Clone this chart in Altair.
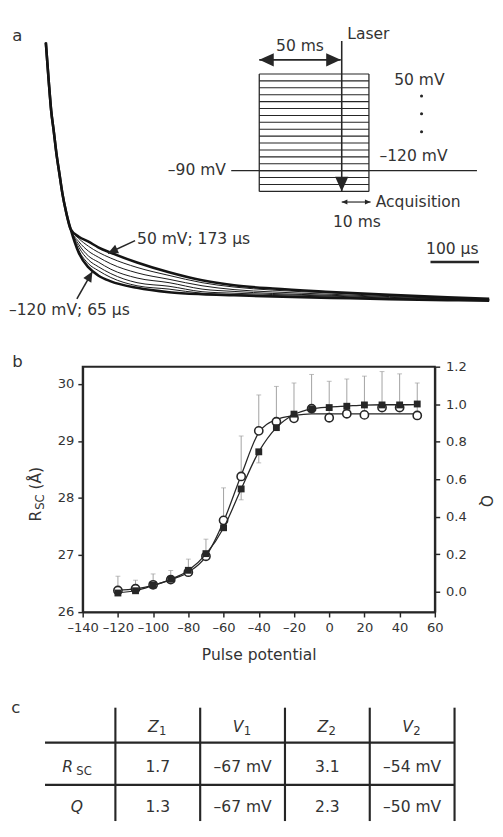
import altair as alt
import pandas as pd

FONT = "DejaVu Sans"
INK = "#262626"
LABEL = "#333333"
TRACE = "#141414"
ERR = "#a0a0a0"
HEAD = "M0,0L1,2.2L-1,2.2Z"   # arrow head, tip at the origin, pointing up

# ================= panel a : decays (time in µs, normalised signal) =================
t_start = [0, 6, 11, 16, 22, 28, 34, 42, 51]
I_start = [1.000, 0.850, 0.737, 0.662, 0.568, 0.492, 0.417, 0.342, 0.278]
t_tail = [68, 88, 108, 134, 188, 254, 322, 388, 468, 588, 708, 828, 914]
trace_names = ["50 mV", "t2", "t3", "t4", "t5", "t6", "-120 mV"]
trace_width = [2.6, 1.0, 1.0, 1.0, 1.0, 1.0, 2.6]
tail_50 = [0.248, 0.229, 0.207, 0.186, 0.148, 0.110, 0.079, 0.060, 0.047, 0.034, 0.023, 0.013, 0.008]
tail_2 = [0.241, 0.211, 0.188, 0.165, 0.129, 0.098, 0.070, 0.053, 0.041, 0.030, 0.019, 0.011, 0.006]
tail_3 = [0.229, 0.192, 0.169, 0.143, 0.108, 0.083, 0.058, 0.043, 0.034, 0.025, 0.016, 0.009, 0.005]
tail_4 = [0.218, 0.173, 0.150, 0.122, 0.088, 0.070, 0.045, 0.036, 0.028, 0.021, 0.013, 0.007, 0.003]
tail_5 = [0.207, 0.158, 0.132, 0.105, 0.070, 0.056, 0.035, 0.029, 0.024, 0.018, 0.010, 0.005, 0.002]
tail_6 = [0.195, 0.143, 0.117, 0.090, 0.058, 0.045, 0.029, 0.024, 0.020, 0.014, 0.008, 0.003, 0.001]
tail_120 = [0.185, 0.129, 0.098, 0.075, 0.050, 0.033, 0.025, 0.021, 0.016, 0.011, 0.006, 0.002, 0.000]
tails = [tail_50, tail_2, tail_3, tail_4, tail_5, tail_6, tail_120]

# annotation arrows (tail -> tip) in trace units
arr_t = [184, 64]
arr_I = [0.233, 0.0075]
arr_t2 = [128, 96]
arr_I2 = [0.184, 0.113]
arr_angle = [245, 30]

ann_left_text = ["50 mV; 173 µs", "–120 mV; 65 µs"]
ann_left_t = [188, -76]
ann_left_I = [0.237, -0.038]

ann_center_text = ["a", "100 µs"]
ann_center_t = [-58.6, 838]
ann_center_I = [1.026, 0.200]
ann_center_fs = [17, 16]

bar_t = [793]
bar_t2 = [893]
bar_I = [0.150]

# ---- inset protocol diagram (schematic ms, mV) ----
pulse_mV = list(range(-120, 51, 10))
box_ms = [-50, 16.5]
hold_ms = [-67, 82]
hold_mV = -90
laser_ms = 0
laser_top_mV = 97.8
arrow50_mV = 70.5
arrow50_ms = [-50, -0.6]
acq_mV = -135.4
acq_ms = [0, 17.5]

inset_left_text = ["Laser", "50 mV", "–120 mV", "Acquisition"]
inset_left_ms = [3.4, 31.8, 22.9, 20.6]
inset_left_mV = [107, 41.6, -68.6, -135.4]
inset_right_text = ["–90 mV"]
inset_right_ms = [-70.2]
inset_right_mV = [-89.6]
inset_center_text = ["50 ms", "10 ms"]
inset_center_ms = [-25.3, 9.2]
inset_center_mV = [90.7, -164.5]
dots_ms = [48.4, 48.4, 48.4]
dots_mV = [18.1, -7.6, -33.5]

# ================= panel b =================
V = list(range(-120, 51, 10))
R_circ = [26.38, 26.41, 26.48, 26.57, 26.70, 26.98, 27.61, 28.38, 29.18,
          29.34, 29.40, 29.57, 29.41, 29.48, 29.46, 29.59, 29.59, 29.45]
R_err_hi = [26.63, 26.56, 26.67, 26.73, 26.93, 27.28, 28.18, 29.09, 29.81,
            29.96, 30.02, 30.17, 30.05, 30.09, 30.14, 30.22, 30.18, 30.02]
R_fit = [26.39, 26.41, 26.47, 26.57, 26.70, 26.98, 27.59, 28.40, 29.15,
         29.38, 29.45, 29.48, 29.48, 29.48, 29.48, 29.48, 29.48, 29.48]
Q_sq = [-0.007, 0.005, 0.035, 0.066, 0.114, 0.203, 0.341, 0.548, 0.746,
        0.875, 0.947, 0.975, 0.982, 0.989, 0.996, 0.996, 0.996, 1.001]
Q_fit = [-0.005, 0.005, 0.033, 0.066, 0.113, 0.200, 0.340, 0.548, 0.746,
         0.875, 0.945, 0.975, 0.985, 0.990, 0.995, 0.997, 0.997, 0.998]
Q_err_V = [-50, -40]
Q_err_val = [0.548, 0.746]
Q_err_lo = [0.490, 0.687]

R_ticks = [26, 27, 28, 29, 30]
Q_ticks = [0.0, 0.2, 0.4, 0.6, 0.8, 1.0, 1.2]
V_ticks = list(range(-140, 61, 20))

# title / panel letter of b, placed in data units of the left axis
b_text = ["R", "SC", "(Å)"]
b_text_v = [-166.4, -164.2, -166.4]
b_text_R = [27.685, 27.932, 28.349]
b_text_fs = [16, 12, 16]
b_letter_v = [-177.1]
b_letter_R = [30.39]

# ================= panel c : table =================
col_letters = ["Z", "V", "Z", "V"]
col_subs = ["1", "1", "2", "2"]
row_cells = [["1.7", "–67 mV", "3.1", "–54 mV"],
             ["1.3", "–67 mV", "2.3", "–50 mV"]]
vline_cols = [0.5, 1.5, 2.5, 3.5, 4.5]
hline_rows = [0.38, 1.44]

# ------------------------------------------------------------------------------------
# panel a build
rows = []
for name, w, tail in zip(trace_names, trace_width, tails):
    for t, v in zip(t_start + t_tail, I_start + tail):
        rows.append({"trace": name, "t": t, "I": v, "w": w})
traces_df = pd.DataFrame(rows)

sx_a = alt.Scale(domain=[0, 914], range=[-38, 419], nice=False, zero=False)
sy_a = alt.Scale(domain=[0, 1], range=[288, 22], nice=False, zero=False)
xa = lambda f: alt.X(f, type="quantitative", scale=sx_a, axis=None)
ya = lambda f: alt.Y(f, type="quantitative", scale=sy_a, axis=None)

tr = alt.Chart(traces_df).mark_line(interpolate="monotone", color=TRACE, strokeJoin="round").encode(
    x=xa("t"), y=ya("I"), detail="trace:N", order=alt.Order("t:Q"),
    strokeWidth=alt.StrokeWidth("w:Q", scale=None))

arr_df = pd.DataFrame({"t": arr_t, "I": arr_I, "t2": arr_t2, "I2": arr_I2, "ang": arr_angle})
arr_shaft = alt.Chart(arr_df).mark_rule(color=INK, strokeWidth=1.6).encode(
    x=xa("t"), y=ya("I"), x2="t2", y2="I2")
arr_head = alt.Chart(arr_df).mark_point(shape=HEAD, filled=True, color=INK, size=90, opacity=1, strokeWidth=0).encode(
    x=xa("t2"), y=ya("I2"), angle=alt.Angle("ang:Q", scale=None))

tl_df = pd.DataFrame({"t": ann_left_t, "I": ann_left_I, "txt": ann_left_text})
txt_left = alt.Chart(tl_df).mark_text(align="left", baseline="middle", fontSize=16, color=LABEL).encode(
    x=xa("t"), y=ya("I"), text="txt:N")
tc_df = pd.DataFrame({"t": ann_center_t, "I": ann_center_I, "txt": ann_center_text, "fs": ann_center_fs})
txt_center = alt.Chart(tc_df).mark_text(align="center", baseline="middle", color=LABEL).encode(
    x=xa("t"), y=ya("I"), text="txt:N", size=alt.Size("fs:Q", scale=None))
bar_df = pd.DataFrame({"t": bar_t, "t2": bar_t2, "I": bar_I})
scalebar = alt.Chart(bar_df).mark_rule(color=INK, strokeWidth=2.5).encode(x=xa("t"), x2="t2", y=ya("I"))

layer_traces = alt.layer(tr, arr_shaft, arr_head, txt_left, txt_center, scalebar)

# inset
sx_i = alt.Scale(domain=[-50, 0], range=[182, 267], nice=False, zero=False)
sy_i = alt.Scale(domain=[-120, 50], range=[175.3, 54.3], nice=False, zero=False)
xi = lambda f: alt.X(f, type="quantitative", scale=sx_i, axis=None)
yi = lambda f: alt.Y(f, type="quantitative", scale=sy_i, axis=None)

seg = []
for mv in pulse_mV:
    seg.append({"x": box_ms[0], "x2": box_ms[1], "y": mv, "y2": mv, "w": 1.1})
for bx in box_ms:
    seg.append({"x": bx, "x2": bx, "y": pulse_mV[0], "y2": pulse_mV[-1], "w": 1.3})
seg.append({"x": hold_ms[0], "x2": hold_ms[1], "y": hold_mV, "y2": hold_mV, "w": 1.3})
seg.append({"x": laser_ms, "x2": laser_ms, "y": laser_top_mV, "y2": pulse_mV[0], "w": 1.6})
seg.append({"x": arrow50_ms[0], "x2": arrow50_ms[1], "y": arrow50_mV, "y2": arrow50_mV, "w": 2.0})
seg.append({"x": acq_ms[0], "x2": acq_ms[1], "y": acq_mV, "y2": acq_mV, "w": 1.2})
seg_df = pd.DataFrame(seg)
inset_rules = alt.Chart(seg_df).mark_rule(color=INK).encode(
    x=xi("x"), x2="x2", y=yi("y"), y2="y2", strokeWidth=alt.StrokeWidth("w:Q", scale=None))

heads_df = pd.DataFrame({
    "x": [laser_ms, arrow50_ms[0], arrow50_ms[1], acq_ms[0], acq_ms[1]],
    "y": [pulse_mV[0], arrow50_mV, arrow50_mV, acq_mV, acq_mV],
    "ang": [180, 270, 90, 270, 90],
    "s": [185, 185, 185, 28, 28]})
inset_heads = alt.Chart(heads_df).mark_point(shape=HEAD, filled=True, color=INK, opacity=1, strokeWidth=0).encode(
    x=xi("x"), y=yi("y"), angle=alt.Angle("ang:Q", scale=None), size=alt.Size("s:Q", scale=None))

il_df = pd.DataFrame({"x": inset_left_ms, "y": inset_left_mV, "txt": inset_left_text})
ir_df = pd.DataFrame({"x": inset_right_ms, "y": inset_right_mV, "txt": inset_right_text})
ic_df = pd.DataFrame({"x": inset_center_ms, "y": inset_center_mV, "txt": inset_center_text})
inset_tl = alt.Chart(il_df).mark_text(align="left", baseline="middle", fontSize=16, color=LABEL).encode(
    x=xi("x"), y=yi("y"), text="txt:N")
inset_tr = alt.Chart(ir_df).mark_text(align="right", baseline="middle", fontSize=16, color=LABEL).encode(
    x=xi("x"), y=yi("y"), text="txt:N")
inset_tc = alt.Chart(ic_df).mark_text(align="center", baseline="middle", fontSize=16, color=LABEL).encode(
    x=xi("x"), y=yi("y"), text="txt:N")
dots_df = pd.DataFrame({"x": dots_ms, "y": dots_mV})
inset_dots = alt.Chart(dots_df).mark_circle(color=INK, size=10, opacity=1).encode(x=xi("x"), y=yi("y"))

layer_inset = alt.layer(inset_rules, inset_heads, inset_tl, inset_tr, inset_tc, inset_dots)

panel_a = alt.layer(layer_traces, layer_inset).resolve_scale(
    x="independent", y="independent").properties(width=363, height=356)

# ------------------------------------------------------------------------------------
# panel b build
sx_b = alt.Scale(domain=[-140, 60], nice=False, zero=False)
sy_R = alt.Scale(domain=[26, 30.306], nice=False, zero=False)
sy_Q = alt.Scale(domain=[-0.109, 1.2], nice=False, zero=False)

ax_common = dict(domainColor=INK, domainWidth=2, tickColor=INK, tickWidth=1.5, tickSize=5,
                 labelColor=LABEL, labelFontSize=13.5, labelFont=FONT, titleFont=FONT,
                 titleColor=LABEL, titleFontWeight="normal", grid=False, labelOverlap=False)
ax_x = alt.Axis(values=V_ticks, title="Pulse potential", titleFontSize=16, labelPadding=4,
                titlePadding=13, labelFlush=False,
                labelExpr="datum.value < 0 ? '–' + abs(datum.value) : '' + datum.value", **ax_common)
ax_R = alt.Axis(values=R_ticks, format="d", title="", labelPadding=4, **ax_common)
ax_Q = alt.Axis(values=Q_ticks, format=".1f", title="Q", orient="right", titleFontSize=16,
                titleAngle=90, titlePadding=12, titleY=138, labelPadding=6, **ax_common)

xb = lambda f: alt.X(f, type="quantitative", scale=sx_b, axis=ax_x)
yR = lambda f: alt.Y(f, type="quantitative", scale=sy_R, axis=ax_R)
yQ = lambda f: alt.Y(f, type="quantitative", scale=sy_Q, axis=ax_Q)

rdf = pd.DataFrame({"v": V, "r": R_circ, "hi": R_err_hi, "fit": R_fit})
err_rule = alt.Chart(rdf).mark_rule(color=ERR, strokeWidth=1).encode(x=xb("v"), y=yR("r"), y2="hi")
err_cap = alt.Chart(rdf).mark_tick(color=ERR, orient="horizontal", size=5, thickness=1).encode(
    x=xb("v"), y=yR("hi"))
r_fit = alt.Chart(rdf).mark_line(color=INK, strokeWidth=1.3, interpolate="monotone").encode(
    x=xb("v"), y=yR("fit"))
r_pts = alt.Chart(rdf).mark_point(shape="circle", filled=True, fill="white", stroke=INK,
                                   strokeWidth=1.6, size=72, opacity=1).encode(x=xb("v"), y=yR("r"))
bt_df = pd.DataFrame({"v": b_text_v, "r": b_text_R, "txt": b_text, "fs": b_text_fs})
b_title = alt.Chart(bt_df).mark_text(angle=270, align="center", baseline="middle", color=LABEL).encode(
    x=xb("v"), y=yR("r"), text="txt:N", size=alt.Size("fs:Q", scale=None))
bl_df = pd.DataFrame({"v": b_letter_v, "r": b_letter_R, "txt": ["b"]})
b_letter = alt.Chart(bl_df).mark_text(align="center", baseline="middle", fontSize=17, color=LABEL).encode(
    x=xb("v"), y=yR("r"), text="txt:N")
layer_R = alt.layer(err_rule, err_cap, r_fit, r_pts, b_title, b_letter)

qdf = pd.DataFrame({"v": V, "q": Q_sq, "fit": Q_fit})
qerr_df = pd.DataFrame({"v": Q_err_V, "q": Q_err_val, "lo": Q_err_lo})
q_err = alt.Chart(qerr_df).mark_rule(color=ERR, strokeWidth=1).encode(x=xb("v"), y=yQ("q"), y2="lo")
q_cap = alt.Chart(qerr_df).mark_tick(color=ERR, orient="horizontal", size=5, thickness=1).encode(
    x=xb("v"), y=yQ("lo"))
q_fit = alt.Chart(qdf).mark_line(color=INK, strokeWidth=1.3, interpolate="monotone").encode(
    x=xb("v"), y=yQ("fit"))
q_pts = alt.Chart(qdf).mark_square(color=INK, size=50, opacity=1).encode(x=xb("v"), y=yQ("q"))
layer_Q = alt.layer(q_err, q_cap, q_fit, q_pts)

panel_b = alt.layer(layer_R, layer_Q).resolve_scale(y="independent").properties(
    width=363, height=253, view=alt.ViewBackground(stroke=INK, strokeWidth=2))

# ------------------------------------------------------------------------------------
# panel c build
sx_c = alt.Scale(domain=[0, 1], range=[-10, 77.4], nice=False, zero=False)
sy_c = alt.Scale(domain=[0, 1], range=[119, 160], nice=False, zero=False)
xc = lambda f: alt.X(f, type="quantitative", scale=sx_c, axis=None)
yc = lambda f: alt.Y(f, type="quantitative", scale=sy_c, axis=None)

lines = []
for k in vline_cols:
    lines.append({"k": k, "k2": k, "r": -0.5, "r2": 2.35})
for r in hline_rows:
    lines.append({"k": -0.33, "k2": 4.5, "r": r, "r2": r})
lines_df = pd.DataFrame(lines)
tab_lines = alt.Chart(lines_df).mark_rule(color=INK, strokeWidth=2.2).encode(
    x=xc("k"), x2="k2", y=yc("r"), y2="r2")

ital = []
for i, L in enumerate(col_letters):
    ital.append({"k": i + 1 - 0.054, "r": 0, "txt": L})
ital.append({"k": -0.062, "r": 1, "txt": "R"})
ital.append({"k": 0.046, "r": 2, "txt": "Q"})
ital_df = pd.DataFrame(ital)
tab_ital = alt.Chart(ital_df).mark_text(fontStyle="italic", fontSize=16, color=LABEL,
                                        align="center", baseline="middle").encode(
    x=xc("k"), y=yc("r"), text="txt:N")

subs = []
for i, s in enumerate(col_subs):
    subs.append({"k": i + 1 + 0.058, "r": 0.1, "txt": s})
subs.append({"k": 0.13, "r": 1.1, "txt": "SC"})
subs_df = pd.DataFrame(subs)
tab_subs = alt.Chart(subs_df).mark_text(fontSize=12, color=LABEL, align="center", baseline="middle").encode(
    x=xc("k"), y=yc("r"), text="txt:N")

cells = []
for ri, row in enumerate(row_cells):
    for ci, val in enumerate(row):
        cells.append({"k": ci + 1, "r": ri + 1, "txt": val})
cells_df = pd.DataFrame(cells)
tab_cells = alt.Chart(cells_df).mark_text(fontSize=16, color=LABEL, align="center", baseline="middle").encode(
    x=xc("k"), y=yc("r"), text="txt:N")

c_df = pd.DataFrame({"k": [-0.675], "r": [-0.488], "txt": ["c"]})
c_letter = alt.Chart(c_df).mark_text(fontSize=17, color=LABEL, align="center", baseline="middle").encode(
    x=xc("k"), y=yc("r"), text="txt:N")

panel_c = alt.layer(tab_lines, tab_ital, tab_subs, tab_cells, c_letter).properties(width=363, height=200)

# ------------------------------------------------------------------------------------
chart = alt.vconcat(panel_a, panel_b, panel_c, spacing=0, bounds="flush", padding=0).configure(
    font=FONT).configure_view(stroke="transparent")

chart.save("out.html", embed_options={"renderer": "svg", "actions": False})
